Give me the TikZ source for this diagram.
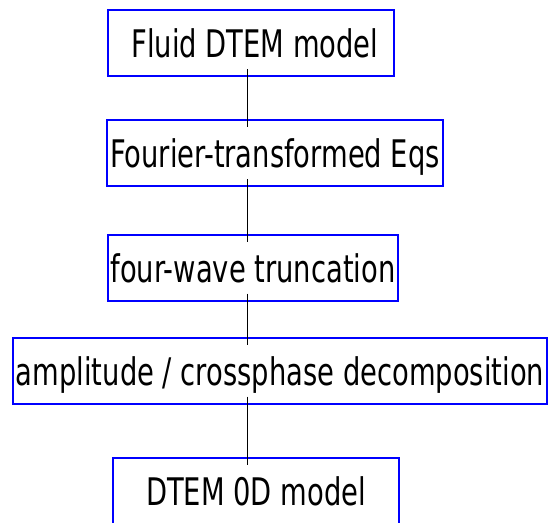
\documentclass[tikz,border=0pt]{standalone}
\usepackage{fontspec}
\setmainfont{DejaVu Sans}[FakeStretch=0.72]
\usepackage{tikz}
\usetikzlibrary{positioning}

\begin{document}
\begin{tikzpicture}[
  x=1pt, y=-1pt,
  box/.style={rectangle, draw=blue, line width=2pt, text centered, inner xsep=3pt, inner ysep=0pt,
    minimum height=66pt, text height=29pt, text depth=0pt, font=\fontsize{38}{44}\selectfont},
  widebox/.style={box, minimum width=286pt},
  link/.style={line width=1.6pt, shorten <=-8pt, shorten >=-8pt}
]
\useasboundingbox (0,0) rectangle (548,522);

\node[widebox] (fluid) at (250.5,43) {\ Fluid DTEM model};
\node[box] (fourier) at (275,153) {Fourier-transformed Eqs};
\node[widebox] (trunc) at (253,267.5) {four-wave truncation};
\node[box] (decomp) at (280,370.5) {amplitude / crossphase decomposition};
\node[widebox] (zerod) at (256,490.5) {DTEM 0D model};

% the connectors share one vertical axis
\coordinate (axis) at (247.5,0);
\draw[link] (fluid.south -| axis) -- (fourier.north -| axis);
\draw[link] (fourier.south -| axis) -- (trunc.north -| axis);
\draw[link] (trunc.south -| axis) -- (decomp.north -| axis);
\draw[link] (decomp.south -| axis) -- (zerod.north -| axis);
\end{tikzpicture}
\end{document}
